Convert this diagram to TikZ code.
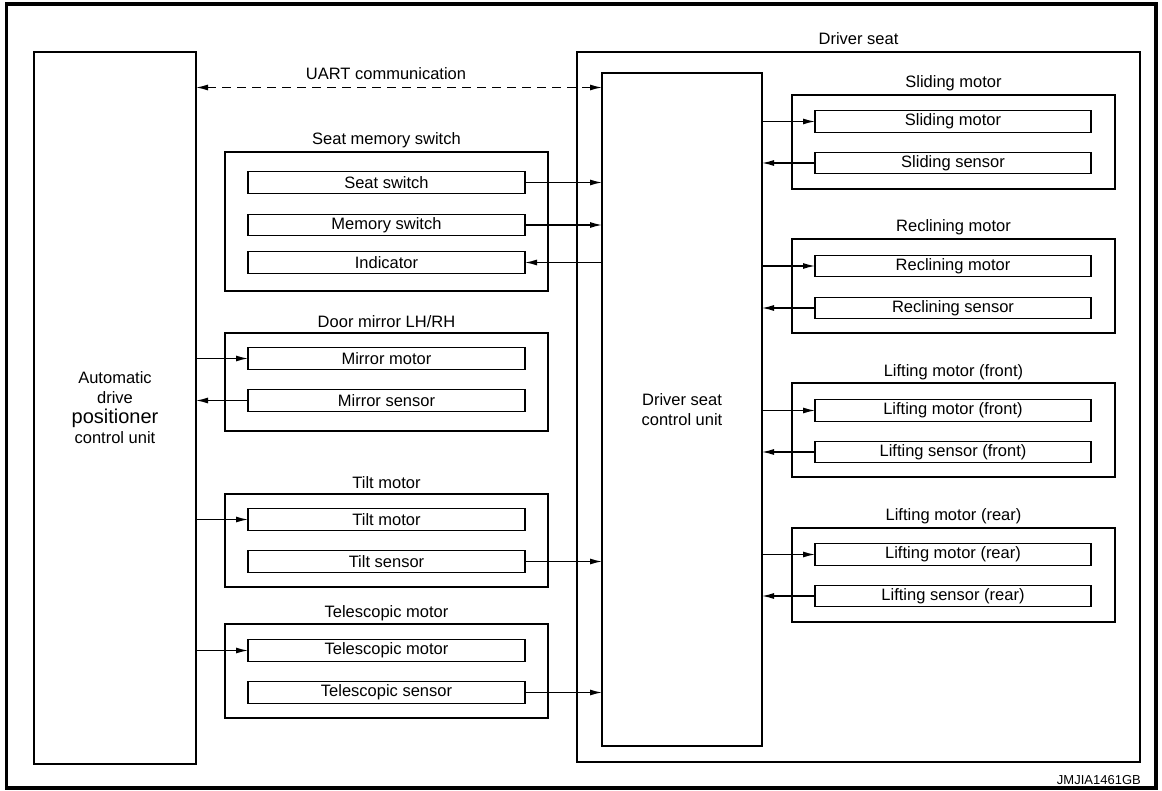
\documentclass[tikz,border=0pt]{standalone}
\usepackage{fontspec}
\setmainfont{Liberation Sans}
\usetikzlibrary{arrows.meta}
\begin{document}
\begin{tikzpicture}[x=1pt,y=-1pt,
  txt/.style={font=\fontsize{16.5}{20}\selectfont},
  bigbox/.style={draw, line width=1.3pt, inner sep=0pt, outer sep=0pt, align=center, txt},
  grp/.style={draw, line width=1.3pt, inner sep=0pt, outer sep=0pt, minimum width=323pt},
  inbox/.style={draw, line width=1.4pt, inner sep=0pt, outer sep=0pt, minimum width=277pt, minimum height=21.5pt, txt},
  lbl/.style={inner sep=0pt, txt},
  arr/.style={line width=1.3pt, -{Latex[length=12pt,width=6pt]}},
  darr/.style={line width=1.3pt, dash pattern=on 9pt off 6pt, {Latex[length=12pt,width=6pt]}-{Latex[length=12pt,width=6pt]}}
]
\useasboundingbox (0,0) rectangle (1162,791);
\draw[line width=3.5pt] (6.5,4) rectangle (1156,788);

% main boxes
\node[bigbox, minimum width=162pt, minimum height=712pt] (adp) at (115,408)
  {Automatic\\drive\\{\fontsize{20}{22}\selectfont positioner}\\control unit};
\node[draw, line width=1.3pt, inner sep=0pt, outer sep=0pt, minimum width=563pt, minimum height=710pt] (ds) at (858.5,407) {};
\node[lbl] (dslbl) at ([yshift=13pt]ds.north) {Driver seat};
\node[bigbox, minimum width=160pt, minimum height=673pt] (dscu) at (682,409.5) {Driver seat\\control unit};

% UART
\coordinate (u) at (0,87.5);
\draw[darr] (u -| adp.east) -- (u -| dscu.west);
\node[lbl] (uart) at (386,74) {UART communication};

% left groups
\node[grp, minimum height=139pt] (g1) at (386.5,221.5) {};
\node[lbl] at ([yshift=12pt]g1.north) {Seat memory switch};
\node[inbox] (ss) at (386.5,182.5) {Seat switch};
\node[inbox] (ms) at (386.5,225) {Memory switch};
\node[inbox] (ind) at (386.5,262.5) {Indicator};

\node[grp, minimum height=98pt] (g2) at (386.5,382) {};
\node[lbl] at ([yshift=11pt]g2.north) {Door mirror LH/RH};
\node[inbox] (mm) at (386.5,358.5) {Mirror motor};
\node[inbox] (msen) at (386.5,400.5) {Mirror sensor};

\node[grp, minimum height=93pt] (g3) at (386.5,540.5) {};
\node[lbl] at ([yshift=11pt]g3.north) {Tilt motor};
\node[inbox] (tm) at (386.5,519.5) {Tilt motor};
\node[inbox] (ts) at (386.5,561.5) {Tilt sensor};

\node[grp, minimum height=94pt] (g4) at (386.5,671) {};
\node[lbl] at ([yshift=11pt]g4.north) {Telescopic motor};
\node[inbox] (tlm) at (386.5,650.5) {Telescopic motor};
\node[inbox] (tls) at (386.5,692.5) {Telescopic sensor};

% right groups
\node[grp, minimum height=94pt] (r1) at (953.5,142) {};
\node[lbl] at ([yshift=12pt]r1.north) {Sliding motor};
\node[inbox, minimum width=276pt] (slm) at (953,121.5) {Sliding motor};
\node[inbox, minimum width=276pt] (sls) at (953,163) {Sliding sensor};

\node[grp, minimum height=94pt] (r2) at (953.5,286) {};
\node[lbl] at ([yshift=12pt]r2.north) {Reclining motor};
\node[inbox, minimum width=276pt] (rcm) at (953,266) {Reclining motor};
\node[inbox, minimum width=276pt] (rcs) at (953,308) {Reclining sensor};

\node[grp, minimum height=94pt] (r3) at (953.5,430) {};
\node[lbl] at ([yshift=11pt]r3.north) {Lifting motor (front)};
\node[inbox, minimum width=276pt] (lfm) at (953,410.5) {Lifting motor (front)};
\node[inbox, minimum width=276pt] (lfs) at (953,452) {Lifting sensor (front)};

\node[grp, minimum height=94pt] (r4) at (953.5,575) {};
\node[lbl] at ([yshift=12pt]r4.north) {Lifting motor (rear)};
\node[inbox, minimum width=276pt] (lrm) at (953,554.5) {Lifting motor (rear)};
\node[inbox, minimum width=276pt] (lrs) at (953,596) {Lifting sensor (rear)};

% left connectors
\draw[arr] (ss.east) -- (ss.east -| dscu.west);
\draw[arr] (ms.east) -- (ms.east -| dscu.west);
\draw[arr] (ind.east -| dscu.west) -- (ind.east);
\draw[arr] (mm.west -| adp.east) -- (mm.west);
\draw[arr] (msen.west) -- (msen.west -| adp.east);
\draw[arr] (tm.west -| adp.east) -- (tm.west);
\draw[arr] (ts.east) -- (ts.east -| dscu.west);
\draw[arr] (tlm.west -| adp.east) -- (tlm.west);
\draw[arr] (tls.east) -- (tls.east -| dscu.west);

% right connectors
\draw[arr] (slm.west -| dscu.east) -- (slm.west);
\draw[arr] (sls.west) -- (sls.west -| dscu.east);
\draw[arr] (rcm.west -| dscu.east) -- (rcm.west);
\draw[arr] (rcs.west) -- (rcs.west -| dscu.east);
\draw[arr] (lfm.west -| dscu.east) -- (lfm.west);
\draw[arr] (lfs.west) -- (lfs.west -| dscu.east);
\draw[arr] (lrm.west -| dscu.east) -- (lrm.west);
\draw[arr] (lrs.west) -- (lrs.west -| dscu.east);

\node[font=\fontsize{13}{15}\selectfont, inner sep=0pt, anchor=east] (code) at (1141,780) {JMJIA1461GB};
\end{tikzpicture}
\end{document}
